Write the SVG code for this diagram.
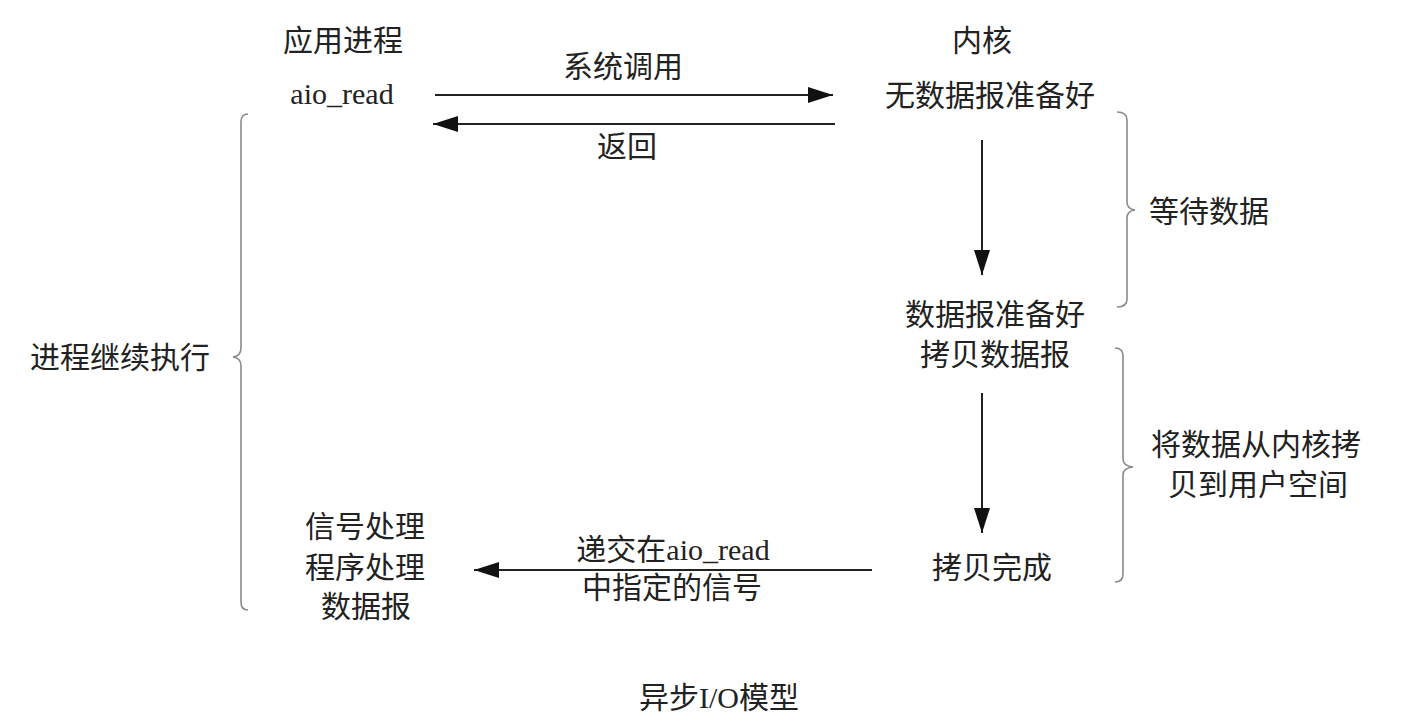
<svg xmlns="http://www.w3.org/2000/svg" width="1412" height="727" viewBox="0 0 1412 727">
<style>
  text { font-family: "Liberation Serif", "Noto Sans CJK SC", serif; font-size: 30px; fill: #222; text-anchor: middle; }
  .cjk { font-family: "Noto Sans CJK SC", "Liberation Sans", sans-serif; font-size: 30px; }
  .arrow { stroke: #222; stroke-width: 2; fill: none; marker-end: url(#head); }
  .brace { stroke: #8a8a8a; stroke-width: 1.6; fill: none; }
</style>
<defs>
  <marker id="head" markerUnits="userSpaceOnUse" markerWidth="26" markerHeight="18" refX="25" refY="8" orient="auto">
    <path d="M0,0 L25,8 L0,16 z" fill="#111"/>
  </marker>
</defs>
<rect width="1412" height="727" fill="#fff"/>

<g id="connectors">
  <line class="arrow" x1="435" y1="95" x2="833" y2="95"/>
  <line class="arrow" x1="835" y1="124" x2="433" y2="124"/>
  <line class="arrow" x1="982" y1="140" x2="982" y2="275"/>
  <line class="arrow" x1="982" y1="393" x2="982" y2="533"/>
  <line class="arrow" x1="872" y1="570" x2="474" y2="570"/>
</g>

<g id="braces">
  <path class="brace" d="M248,114 Q241,114 241,122 L241,348 Q241,356 233,357 Q241,358 241,366 L241,602 Q241,610 248,610"/>
  <path class="brace" d="M1117,112 Q1127,112 1127,120 L1127,202 Q1127,209 1135,210 Q1127,211 1127,218 L1127,299 Q1127,307 1117,307"/>
  <path class="brace" d="M1115,348 Q1123,348 1123,356 L1123,459 Q1123,466 1133,467 Q1123,468 1123,475 L1123,574 Q1123,582 1115,582"/>
</g>

<g id="app-title"><text class="cjk" x="343" y="51">应用进程</text></g>
<g id="aio-read"><text x="342" y="104">aio_read</text></g>
<g id="syscall-label"><text class="cjk" x="623" y="77">系统调用</text></g>
<g id="return-label"><text class="cjk" x="627" y="157">返回</text></g>
<g id="kernel-title"><text class="cjk" x="982" y="51">内核</text></g>
<g id="no-data"><text class="cjk" x="990" y="106">无数据报准备好</text></g>
<g id="wait-data"><text class="cjk" x="1209" y="222">等待数据</text></g>
<g id="data-ready">
  <text class="cjk" x="995" y="325">数据报准备好</text>
  <text class="cjk" x="995" y="365">拷贝数据报</text>
</g>
<g id="copy-space">
  <text class="cjk" x="1256" y="455">将数据从内核拷</text>
  <text class="cjk" x="1258" y="495">贝到用户空间</text>
</g>
<g id="continue"><text class="cjk" x="120" y="368">进程继续执行</text></g>
<g id="signal-handler">
  <text class="cjk" x="365" y="537">信号处理</text>
  <text class="cjk" x="365" y="578">程序处理</text>
  <text class="cjk" x="366" y="617">数据报</text>
</g>
<g id="deliver-label">
  <text x="673" y="560"><tspan class="cjk">递交在</tspan>aio_read</text>
  <text class="cjk" x="672" y="598">中指定的信号</text>
</g>
<g id="copy-done"><text class="cjk" x="992" y="578">拷贝完成</text></g>
<g id="caption"><text x="719" y="708"><tspan class="cjk">异步</tspan>I/O<tspan class="cjk">模型</tspan></text></g>
</svg>
